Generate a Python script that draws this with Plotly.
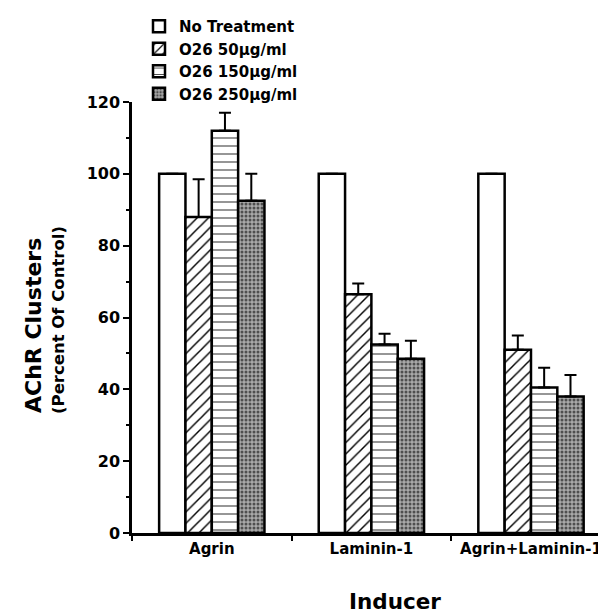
import plotly.graph_objects as go

categories = ["Agrin", "Laminin-1", "Agrin+Laminin-1"]
series_names = ["No Treatment", "O26 50\u03bcg/ml", "O26 150\u03bcg/ml", "O26 250\u03bcg/ml"]
no_treatment = [100, 100, 100]
o26_50 = [88, 66.5, 51]
o26_150 = [112, 52.5, 40.5]
o26_250 = [92.5, 48.5, 38]
err_no_treatment = [None, None, None]
err_50 = [10.5, 3, 4]
err_150 = [5, 3, 5.5]
err_250 = [7.5, 5, 6]
y_ticks = [0, 20, 40, 60, 80, 100, 120]

FONT = "DejaVu Sans"
OFF = 8                      # page body margin in the browser
W, H = 606 - OFF, 614 - OFF  # figure size in its own coordinates
L, R, T, B = 132 - OFF, 0, 102 - OFF, 614 - 533
pw, ph = W - L - R, H - T - B

def px_x(p):  # window pixel -> paper x
    return (p - OFF - L) / pw

def px_y(p):  # window pixel -> paper y
    return (H - B - (p - OFF)) / ph

styles = [
    dict(color="white"),
    dict(color="white", pattern=dict(shape="/", fgcolor="black", bgcolor="white", size=8, solidity=0.18, fillmode="replace")),
    dict(color="white", pattern=dict(shape="-", fgcolor="#222", bgcolor="white", size=8, solidity=0.12, fillmode="replace")),
    dict(color="#999999", pattern=dict(shape=".", fgcolor="#4e4e4e", bgcolor="#a9a9a9", size=4, solidity=0.45, fillmode="replace")),
]
values = [no_treatment, o26_50, o26_150, o26_250]
errors = [err_no_treatment, err_50, err_150, err_250]

fig = go.Figure()
for name, vals, errs, st in zip(series_names, values, errors, styles):
    marker = dict(line=dict(color="black", width=2.5), **st)
    fig.add_trace(go.Bar(
        x=categories, y=vals, name=name, marker=marker,
        error_y=dict(type="data", array=errs, arrayminus=[0, 0, 0], symmetric=False,
                     color="black", thickness=2, width=6),
    ))

fig.update_layout(
    width=W, height=H,
    margin=dict(l=L, r=R, t=T, b=B, autoexpand=False),
    paper_bgcolor="white", plot_bgcolor="white",
    barmode="group", bargap=0.34, bargroupgap=0,
    font=dict(family=FONT, size=16, color="black", weight="bold"),
    showlegend=True,
    legend=dict(x=px_x(139), y=px_y(10), xanchor="left", yanchor="top",
                font=dict(family=FONT, size=15, color="black", weight="bold"),
                bgcolor="rgba(0,0,0,0)", tracegroupgap=0, itemwidth=30),
    xaxis=dict(type="category", range=[-0.5, 2.47], showline=True, linecolor="black", linewidth=2.5,
               ticks="outside", tickson="boundaries", ticklen=5, tickwidth=2, tickcolor="black",
               showgrid=False, zeroline=False, automargin=False,
               tickfont=dict(family=FONT, size=15, color="black", weight="bold")),
    yaxis=dict(range=[0, 120], tickvals=y_ticks, showline=True, linecolor="black", linewidth=2.5,
               ticks="outside", ticklen=6, tickwidth=2, tickcolor="black",
               minor=dict(dtick=10, ticks="outside", ticklen=3, tickwidth=1.5, tickcolor="black"),
               showgrid=False, zeroline=False, automargin=False,
               tickfont=dict(family=FONT, size=16, color="black", weight="bold")),
    annotations=[
        dict(text="AChR Clusters", x=px_x(33), y=px_y(326), xref="paper", yref="paper",
             textangle=-90, showarrow=False, xanchor="center", yanchor="middle",
             font=dict(family=FONT, size=22, color="black", weight="bold")),
        dict(text="(Percent Of Control)", x=px_x(58), y=px_y(320), xref="paper", yref="paper",
             textangle=-90, showarrow=False, xanchor="center", yanchor="middle",
             font=dict(family=FONT, size=16.5, color="black", weight="bold")),
        dict(text="Inducer", x=px_x(395), y=px_y(601), xref="paper", yref="paper",
             showarrow=False, xanchor="center", yanchor="middle",
             font=dict(family=FONT, size=21.5, color="black", weight="bold")),
    ],
)

fig.write_html("out.html")
